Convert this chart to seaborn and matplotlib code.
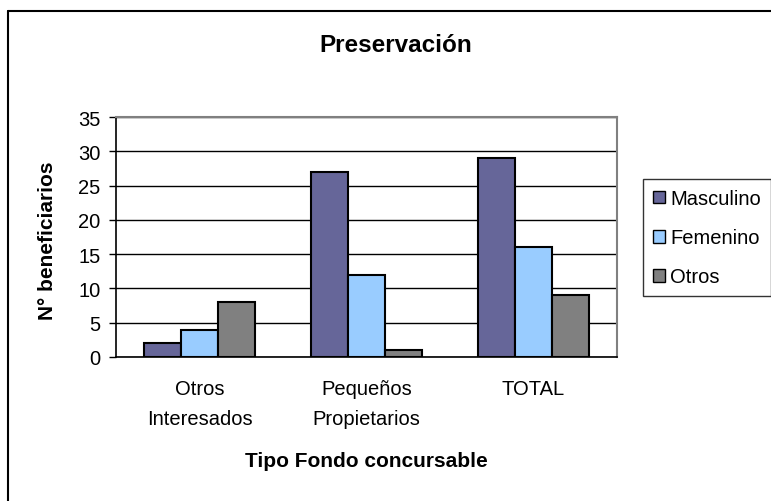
import matplotlib
matplotlib.use("Agg")
import matplotlib.pyplot as plt
import seaborn as sns
import pandas as pd

categorias = ["Otros\nInteresados", "Pequeños\nPropietarios", "TOTAL"]
masculino = [2, 27, 29]
femenino = [4, 12, 16]
otros = [8, 1, 9]
series = ["Masculino", "Femenino", "Otros"]
colores = ["#666699", "#99CCFF", "#808080"]

rows = []
for nombre, vals in zip(series, [masculino, femenino, otros]):
    for cat, v in zip(categorias, vals):
        rows.append({"tipo": cat, "sexo": nombre, "valor": v})
df = pd.DataFrame(rows)

sns.set_style("white")
plt.rcParams["font.family"] = ["Liberation Sans", "DejaVu Sans"]
plt.rcParams["text.color"] = "black"
plt.rcParams["xtick.color"] = "black"
plt.rcParams["ytick.color"] = "black"
plt.rcParams["axes.labelcolor"] = "black"

W, H = 771, 502
fig = plt.figure(figsize=(W / 100, H / 100), dpi=100)
ax = fig.add_axes([116 / W, (H - 358) / H, 501 / W, 240 / H])

sns.barplot(data=df, x="tipo", y="valor", hue="sexo", order=categorias,
            hue_order=series, palette=colores, saturation=1, width=0.67, gap=0,
            edgecolor="black", linewidth=1.5, ax=ax, zorder=3)

ax.set_xlim(-0.5, 2.5)
ax.set_ylim(0, 35)
ax.set_yticks(range(0, 36, 5))
ax.grid(axis="y", color="black", linewidth=1, zorder=0)
ax.set_axisbelow(True)

ax.set_xticks([0, 1, 2])
ax.set_xticklabels(categorias, fontsize=14.5, linespacing=1.75)
ax.set_xticks([0.5, 1.5], minor=True)
ax.tick_params(axis="x", which="major", length=0, pad=15.5)
ax.tick_params(axis="x", which="minor", length=5, width=1, color="#404040", direction="out")
ax.tick_params(axis="y", length=5, width=1, color="black", direction="out", labelsize=14.5, pad=6, left=True)

for s in ["top", "right"]:
    ax.spines[s].set_color("#808080")
    ax.spines[s].set_linewidth(1.5)
ax.spines["left"].set_color("black")
ax.spines["bottom"].set_color("black")
ax.spines["left"].set_linewidth(1.2)
ax.spines["bottom"].set_linewidth(1.2)

ax.set_xlabel("")
ax.set_ylabel("")
fig.text(366 / W, 1 - 462 / H, "Tipo Fondo concursable", fontsize=15, fontweight="bold",
         ha="center", va="center", color="black")
fig.text(48 / W, 1 - 241 / H, "N° beneficiarios", fontsize=15, fontweight="bold",
         ha="center", va="center", rotation=90, color="black")
fig.text(396 / W, 1 - 45 / H, "Preservación", fontsize=17.5, fontweight="bold",
         ha="center", va="center", color="black")

leg = ax.legend(loc="upper left", bbox_to_anchor=(643 / W, 1 - 180 / H),
                bbox_transform=fig.transFigure, fontsize=14.5, frameon=True,
                fancybox=False, shadow=False, handlelength=0.6, handleheight=0.6,
                handletextpad=0.25, labelspacing=1.0, borderpad=0.5,
                borderaxespad=0)
leg.get_frame().set_edgecolor("black")
leg.get_frame().set_linewidth(1)
for h in leg.legend_handles:
    h.set_edgecolor("black")
    h.set_linewidth(1)

# figure border (left and top visible)
fig.add_artist(plt.Line2D([8 / W, 8 / W], [0, 1 - 12 / H], color="black", linewidth=1.5,
                          transform=fig.transFigure))
fig.add_artist(plt.Line2D([8 / W, 1], [1 - 12 / H, 1 - 12 / H], color="black", linewidth=1.5,
                          transform=fig.transFigure))

fig.savefig("out.png", dpi=100)
